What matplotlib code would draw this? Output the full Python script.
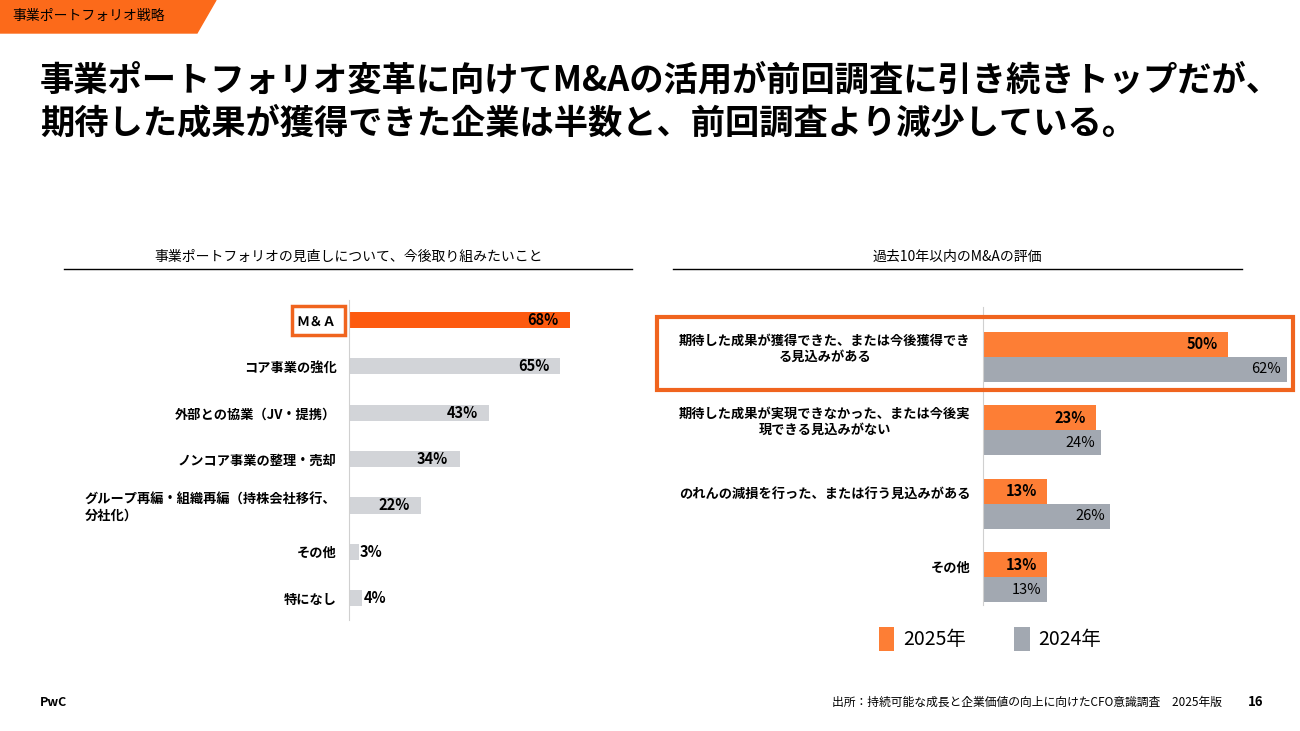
import matplotlib
matplotlib.use('Agg')
import matplotlib.pyplot as plt
from matplotlib.patches import Polygon, Rectangle
from matplotlib.lines import Line2D

plt.rcParams['font.family'] = ['Noto Sans CJK JP', 'DejaVu Sans']

# left chart: 今後取り組みたいこと
left_labels = ['Ｍ＆Ａ', 'コア事業の強化', '外部との協業（JV・提携）', 'ノンコア事業の整理・売却',
               'グループ再編・組織再編（持株会社移行、\n分社化）', 'その他', '特になし']
left_values = [68, 65, 43, 34, 22, 3, 4]

# right chart: 過去10年以内のM&Aの評価
right_labels = ['期待した成果が獲得できた、または今後獲得でき\nる見込みがある',
                '期待した成果が実現できなかった、または今後実\n現できる見込みがない',
                'のれんの減損を行った、または行う見込みがある',
                'その他']
values_2025 = [50, 23, 13, 13]
values_2024 = [62, 24, 26, 13]
series_names = ['2025年', '2024年']

ORANGE = '#FD5A0F'
ORANGE2 = '#FD7E35'
GRAY_L = '#D2D4D8'
GRAY_R = '#A2A8B1'
BOX = '#F0641E'

W, H = 1300, 731
fig = plt.figure(figsize=(13, 7.31), dpi=100)


def fx(x):
    return x / W


def fy(y):
    return 1 - y / H


# top-left tag
fig.patches.append(Polygon([[0, fy(0)], [fx(216), fy(0)], [fx(197), fy(33)], [0, fy(33)]],
                           closed=True, transform=fig.transFigure, color='#FC6A1A', zorder=0))
fig.text(fx(12), fy(16), '事業ポートフォリオ戦略', fontsize=10, va='center', ha='left')

# title
fig.text(fx(40), fy(80), '事業ポートフォリオ変革に向けてM&Aの活用が前回調査に引き続きトップだが、',
         fontsize=24.7, fontweight='bold', va='center', ha='left')
fig.text(fx(40), fy(123), '期待した成果が獲得できた企業は半数と、前回調査より減少している。',
         fontsize=24.7, fontweight='bold', va='center', ha='left')

# section titles with rules
fig.text(fx(349), fy(257), '事業ポートフォリオの見直しについて、今後取り組みたいこと',
         fontsize=10, ha='center', va='center')
fig.add_artist(Line2D([fx(64), fx(632)], [fy(269), fy(269)], color='black', lw=1))
fig.text(fx(957), fy(257), '過去10年以内のM&Aの評価', fontsize=10, ha='center', va='center')
fig.add_artist(Line2D([fx(673), fx(1242)], [fy(269), fy(269)], color='black', lw=1))

# ---- left bars
axl = fig.add_axes([fx(349), fy(620), 325 / W, 320 / H])
ypos = list(range(len(left_values)))
colors = [ORANGE] + [GRAY_L] * (len(left_values) - 1)
axl.barh(ypos, left_values, height=0.35, color=colors)
axl.set_xlim(0, 100)
axl.set_ylim(6.47, -0.43)
for i, v in enumerate(left_values):
    if v >= 10:
        axl.annotate(f'{v}%', (v, i), xytext=(-8, 0), textcoords='offset points',
                     ha='right', va='center', fontsize=10.5, fontweight='bold')
    else:
        axl.annotate(f'{v}%', (v, i), xytext=(1, 0), textcoords='offset points',
                     ha='left', va='center', fontsize=10.5, fontweight='bold')
axl.set_yticks(ypos)
axl.set_yticklabels(left_labels, fontsize=9.5, fontweight='bold')
for t in axl.get_yticklabels():
    t.set_multialignment('left')
axl.tick_params(axis='y', length=0, pad=9)
axl.set_xticks([])
for s in ['top', 'right', 'bottom']:
    axl.spines[s].set_visible(False)
axl.spines['left'].set_color('#D0D0D0')

# box around M&A label
fig.patches.append(Rectangle((fx(292), fy(335)), 53 / W, 29 / H, transform=fig.transFigure,
                             fill=False, edgecolor=BOX, lw=2.5))

# ---- right bars
axr = fig.add_axes([fx(983), fy(605), 317 / W, 298 / H])
rpos = list(range(len(right_labels)))
bh = 0.34
axr.barh([p - bh / 2 for p in rpos], values_2025, height=bh, color=ORANGE2, label=series_names[0])
axr.barh([p + bh / 2 for p in rpos], values_2024, height=bh, color=GRAY_R, label=series_names[1])
axr.set_xlim(0, 317 / 4.9)
axr.set_ylim(3.38, -0.68)
for i, (a, b) in enumerate(zip(values_2025, values_2024)):
    axr.annotate(f'{a}%', (a, i - bh / 2), xytext=(-7, 0), textcoords='offset points',
                 ha='right', va='center', fontsize=10.5, fontweight='bold')
    axr.annotate(f'{b}%', (b, i + bh / 2), xytext=(-4, 0), textcoords='offset points',
                 ha='right', va='center', fontsize=10.5)
axr.set_yticks([p - 0.15 for p in rpos])
axr.set_yticklabels(right_labels, fontsize=9.5, fontweight='bold')
for t in axr.get_yticklabels():
    t.set_multialignment('center')
axr.tick_params(axis='y', length=0, pad=9)
axr.set_xticks([])
for s in ['top', 'right', 'bottom']:
    axr.spines[s].set_visible(False)
axr.spines['left'].set_color('#D0D0D0')

# highlight box on right chart
fig.patches.append(Rectangle((fx(657), fy(390)), 636 / W, 73 / H, transform=fig.transFigure,
                             fill=False, edgecolor=BOX, lw=3, zorder=5))

# legend
fig.legend(loc='center left', bbox_to_anchor=(fx(861), fy(639)), ncol=2, frameon=False,
           fontsize=14, handlelength=0.8, handleheight=1.5, columnspacing=2.5, handletextpad=0.45)

# footer
fig.text(fx(40), fy(702), 'PwC', fontsize=9, fontweight='bold', ha='left', va='center')
fig.text(fx(1222), fy(702), '出所：持続可能な成長と企業価値の向上に向けたCFO意識調査　2025年版',
         fontsize=8.5, ha='right', va='center')
fig.text(fx(1248), fy(702), '16', fontsize=9.5, fontweight='bold', ha='left', va='center')

fig.savefig('out.png', dpi=100)
